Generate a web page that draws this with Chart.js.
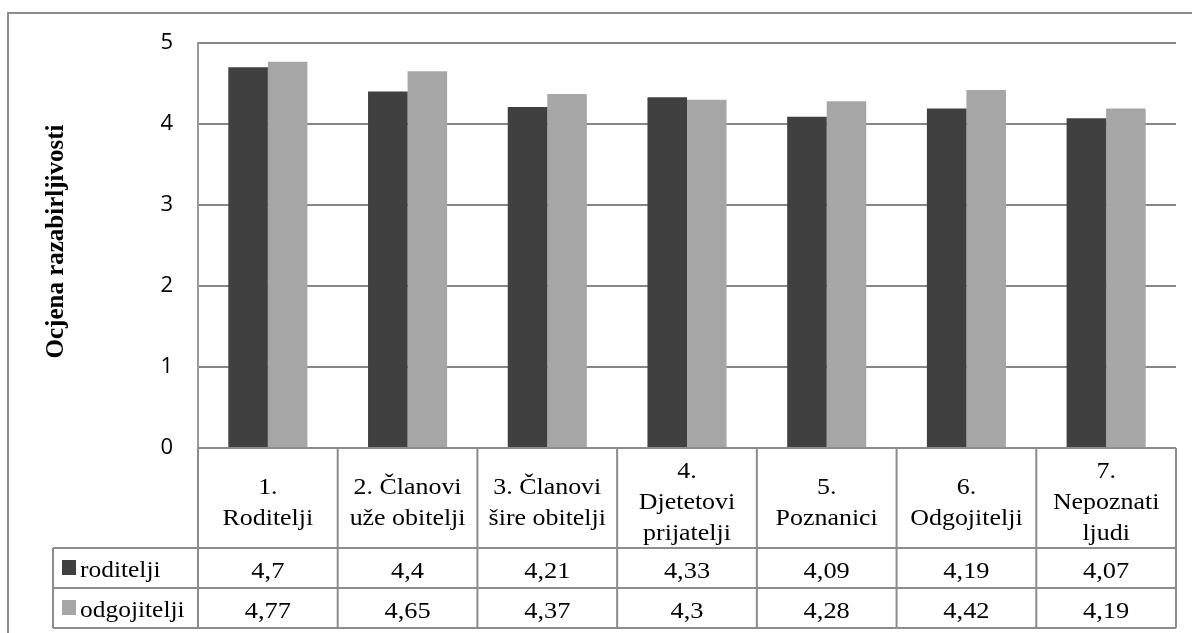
<!DOCTYPE html>
<html lang="hr">
<head>
<meta charset="UTF-8">
<title>Ocjena razabirljivosti</title>
<script src="https://cdn.jsdelivr.net/npm/chart.js"></script>
<style>
  html, body { margin: 0; padding: 0; background: #fff; }
  #wrap { width: 1192px; height: 633px; position: relative; }
</style>
</head>
<body>
<div id="wrap"><canvas id="myChart" width="1192" height="633"></canvas></div>

<script>
// data
const categories = [
  ['1.', 'Roditelji'],
  ['2. Članovi', 'uže obitelji'],
  ['3. Članovi', 'šire obitelji'],
  ['4.', 'Djetetovi', 'prijatelji'],
  ['5.', 'Poznanici'],
  ['6.', 'Odgojitelji'],
  ['7.', 'Nepoznati', 'ljudi']
];
const seriesNames = ['roditelji', 'odgojitelji'];
const roditelji = [4.7, 4.4, 4.21, 4.33, 4.09, 4.19, 4.07];
const odgojitelji = [4.77, 4.65, 4.37, 4.3, 4.28, 4.42, 4.19];
const yTicks = [0, 1, 2, 3, 4, 5];
const yTitle = 'Ocjena razabirljivosti';

const colors = ['#404040', '#a6a6a6'];
const lineColor = '#8c8c8c';
const serif = '"Liberation Serif", "Times New Roman", serif';

function stretchText(ctx, text, x, y, sx) {
  ctx.save();
  ctx.translate(x, y);
  ctx.scale(sx, 1);
  ctx.fillText(text, 0, 0);
  ctx.restore();
}

// outer frame, y title and the data table under the plot
const tablePlugin = {
  id: 'tablePlugin',
  afterDraw(chart) {
    const ctx = chart.ctx;
    const area = chart.chartArea;
    const x = chart.scales.x;
    const n = categories.length;
    const colW = (area.right - area.left) / n;
    const top = area.bottom;
    const catBottom = top + 100;
    const rowH = 40;
    const tableLeft = 53;
    const tableBottom = catBottom + rowH * 2;

    ctx.save();
    ctx.strokeStyle = lineColor;
    ctx.lineWidth = 2;
    // outer frame
    ctx.strokeRect(8, 13, 1300, 700);

    // horizontal lines
    ctx.beginPath();
    ctx.moveTo(area.left, top); ctx.lineTo(area.right, top);
    for (let r = 0; r <= 2; r++) {
      const yy = catBottom + r * rowH;
      ctx.moveTo(tableLeft, yy); ctx.lineTo(area.right, yy);
    }
    // vertical lines
    ctx.moveTo(tableLeft, catBottom); ctx.lineTo(tableLeft, tableBottom);
    for (let i = 0; i <= n; i++) {
      const xx = area.left + i * colW;
      ctx.moveTo(xx, top); ctx.lineTo(xx, tableBottom);
    }
    ctx.stroke();

    // category labels
    ctx.fillStyle = '#000';
    ctx.font = '24px ' + serif;
    ctx.textAlign = 'center';
    ctx.textBaseline = 'alphabetic';
    categories.forEach((lines, i) => {
      const cx = x.getPixelForValue(i);
      lines.forEach((ln, j) => {
        const by = 509 + (j - (lines.length - 1) / 2) * 31;
        stretchText(ctx, ln, cx, by, 1.08);
      });
    });

    // value rows
    const rows = [roditelji, odgojitelji];
    rows.forEach((vals, r) => {
      const by = catBottom + r * rowH + 30;
      vals.forEach((v, i) => {
        const cx = x.getPixelForValue(i);
        stretchText(ctx, String(v).replace('.', ','), cx, by, 1.1);
      });
      // legend key + name
      ctx.fillStyle = colors[r];
      ctx.fillRect(62, catBottom + r * rowH + 12, 14, 15);
      ctx.fillStyle = '#000';
      ctx.textAlign = 'left';
      stretchText(ctx, seriesNames[r], 80, by - 1, 1.06);
      ctx.textAlign = 'center';
    });

    // y axis title
    ctx.save();
    ctx.translate(57, (area.top + area.bottom) / 2 - 4);
    ctx.rotate(-Math.PI / 2);
    ctx.font = 'bold 25px ' + serif;
    ctx.textAlign = 'center';
    ctx.textBaseline = 'middle';
    ctx.fillText(yTitle, 0, 0);
    ctx.restore();

    ctx.restore();
  }
};

const ctx = document.getElementById('myChart');
new Chart(ctx, {
  type: 'bar',
  data: {
    labels: categories.map(c => c.join(' ')),
    datasets: [
      { label: seriesNames[0], data: roditelji, backgroundColor: colors[0] },
      { label: seriesNames[1], data: odgojitelji, backgroundColor: colors[1] }
    ]
  },
  options: {
    responsive: false,
    animation: false,
    devicePixelRatio: 1,
    layout: { padding: { left: 0, top: 43, right: 16, bottom: 185 } },
    datasets: { bar: { categoryPercentage: 0.566, barPercentage: 1 } },
    plugins: { legend: { display: false }, tooltip: { enabled: false } },
    scales: {
      x: { display: false },
      y: {
        min: 0,
        max: 5,
        afterFit(scale) { scale.width = 198; },
        afterBuildTicks(scale) { scale.ticks = yTicks.map(v => ({ value: v })); },
        grid: { color: '#868686', lineWidth: 2, drawTicks: false },
        border: { display: true, color: '#999999', width: 2 },
        ticks: {
          padding: 25,
          color: '#000',
          font: { family: '"Open Sans", sans-serif', size: 22 }
        }
      }
    }
  },
  plugins: [tablePlugin]
});
</script>
</body>
</html>
